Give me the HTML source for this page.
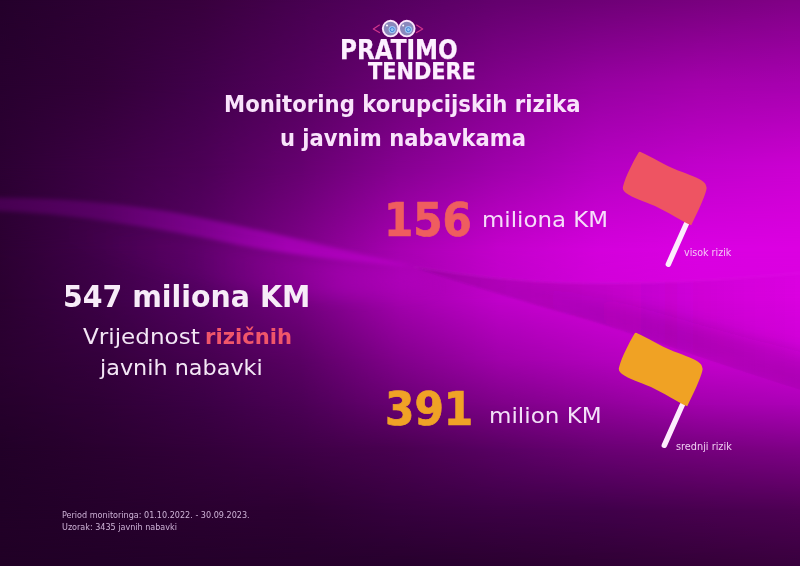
<!DOCTYPE html>
<html lang="bs">
<head>
<meta charset="utf-8">
<title>Pratimo tendere - Monitoring korupcijskih rizika u javnim nabavkama</title>
<style>
html,body{margin:0;padding:0;}
body{width:800px;height:566px;overflow:hidden;background:#3a0850;font-family:"Liberation Sans",sans-serif;}
#stage{position:relative;width:800px;height:566px;overflow:hidden;}
#bg,#art{position:absolute;left:0;top:0;width:800px;height:566px;display:block;}
.t{position:absolute;white-space:nowrap;line-height:1;margin:0;padding:0;transform-origin:0 0;}
#v1 b{color:#f0566a;}
#logo1{left:340.43px;top:36.60px;font-family:"DejaVu Sans Condensed","DejaVu Sans","Liberation Sans",sans-serif;font-size:26.1px;font-weight:bold;color:#fdf0ff;transform:scaleX(0.9846);}
#logo2{left:368.40px;top:60.00px;font-family:"DejaVu Sans Condensed","DejaVu Sans","Liberation Sans",sans-serif;font-size:22.5px;font-weight:bold;color:#fdf0ff;transform:scaleX(1.0291);}
#h1{left:224.41px;top:93.00px;font-family:"DejaVu Sans Condensed","DejaVu Sans","Liberation Sans",sans-serif;font-size:22.6px;font-weight:bold;color:#f9e3fb;transform:scaleX(1.0444);}
#h2{left:279.96px;top:126.75px;font-family:"DejaVu Sans Condensed","DejaVu Sans","Liberation Sans",sans-serif;font-size:22.6px;font-weight:bold;color:#f9e3fb;transform:scaleX(1.0383);}
#n156{left:384.36px;top:196.90px;font-family:"DejaVu Sans Condensed","DejaVu Sans","Liberation Sans",sans-serif;font-size:46.4px;font-weight:bold;color:#ef5d5f;transform:scaleX(1.0075);}
#m156{left:482.35px;top:209.75px;font-family:"DejaVu Sans","Liberation Sans",sans-serif;font-size:20.4px;font-weight:normal;color:#f6dcfa;transform:scaleX(1.1231);}
#n391{left:385.46px;top:385.70px;font-family:"DejaVu Sans Condensed","DejaVu Sans","Liberation Sans",sans-serif;font-size:46.4px;font-weight:bold;color:#f0a226;transform:scaleX(1.0136);}
#m391{left:489.14px;top:405.90px;font-family:"DejaVu Sans","Liberation Sans",sans-serif;font-size:20.4px;font-weight:normal;color:#f3e0f8;transform:scaleX(1.1302);}
#big{left:62.54px;top:282.40px;font-family:"DejaVu Sans Condensed","DejaVu Sans","Liberation Sans",sans-serif;font-size:30.7px;font-weight:bold;color:#f7ecf8;transform:scaleX(1.0297);}
#v1{left:82.60px;top:326.60px;font-family:"DejaVu Sans","Liberation Sans",sans-serif;font-size:20.9px;font-weight:normal;color:#f3e6f5;transform:scaleX(1.1048);}
#v1b{left:204.58px;top:326.60px;font-family:"DejaVu Sans","Liberation Sans",sans-serif;font-size:20.9px;font-weight:bold;color:#f0566a;transform:scaleX(1.0096);}
#v2{left:99.82px;top:358.20px;font-family:"DejaVu Sans","Liberation Sans",sans-serif;font-size:20.9px;font-weight:normal;color:#f3e6f5;transform:scaleX(1.0687);}
#lab1{left:683.75px;top:246.60px;font-family:"DejaVu Sans Condensed","DejaVu Sans","Liberation Sans",sans-serif;font-size:10.3px;font-weight:normal;color:#f6c6f7;transform:scaleX(1.0272);}
#lab2{left:675.60px;top:441.40px;font-family:"DejaVu Sans Condensed","DejaVu Sans","Liberation Sans",sans-serif;font-size:10.3px;font-weight:normal;color:#efcdf2;transform:scaleX(1.0500);}
#f1{left:62.43px;top:509.85px;font-family:"DejaVu Sans Condensed","DejaVu Sans","Liberation Sans",sans-serif;font-size:9.3px;font-weight:normal;color:#cdb2d6;transform:scaleX(0.9655);}
#f2{left:62.44px;top:522.20px;font-family:"DejaVu Sans Condensed","DejaVu Sans","Liberation Sans",sans-serif;font-size:9.3px;font-weight:normal;color:#cdb2d6;transform:scaleX(0.9627);}
#n156{-webkit-text-stroke:0.7px #ef5d5f;}
#n391{-webkit-text-stroke:0.7px #f0a226;}
#logo1,#logo2{-webkit-text-stroke:0.25px #fdf0ff;}

</style>
</head>
<body>
<div id="stage">
<svg id="bg" width="800" height="566" viewBox="0 0 800 566">
<defs>
<linearGradient id="r0" x1="0" y1="0" x2="800" y2="0" gradientUnits="userSpaceOnUse"><stop offset="0" stop-color="#24002b"/><stop offset="0.125" stop-color="#2e0034"/><stop offset="0.25" stop-color="#38003d"/><stop offset="0.375" stop-color="#470050"/><stop offset="0.5" stop-color="#560060"/><stop offset="0.625" stop-color="#64006e"/><stop offset="0.75" stop-color="#6e0076"/><stop offset="0.875" stop-color="#78007e"/><stop offset="1" stop-color="#810087"/></linearGradient>
<linearGradient id="r1" x1="0" y1="0" x2="800" y2="0" gradientUnits="userSpaceOnUse"><stop offset="0" stop-color="#28002f"/><stop offset="0.125" stop-color="#320038"/><stop offset="0.25" stop-color="#40004a"/><stop offset="0.375" stop-color="#54005e"/><stop offset="0.5" stop-color="#6c0076"/><stop offset="0.625" stop-color="#84008e"/><stop offset="0.75" stop-color="#9800a2"/><stop offset="0.875" stop-color="#a400ac"/><stop offset="1" stop-color="#a800b0"/></linearGradient>
<linearGradient id="m1" x1="0" y1="0" x2="0" y2="85" gradientUnits="userSpaceOnUse"><stop offset="0" stop-color="#fff" stop-opacity="0"/><stop offset="1" stop-color="#fff"/></linearGradient>
<mask id="k1" maskUnits="userSpaceOnUse" x="0" y="0" width="800" height="566"><rect y="0" width="800" height="566" fill="url(#m1)"/></mask>
<linearGradient id="r2" x1="0" y1="0" x2="800" y2="0" gradientUnits="userSpaceOnUse"><stop offset="0" stop-color="#2c0033"/><stop offset="0.125" stop-color="#3c0044"/><stop offset="0.25" stop-color="#4c0056"/><stop offset="0.375" stop-color="#660070"/><stop offset="0.5" stop-color="#870092"/><stop offset="0.625" stop-color="#a000ac"/><stop offset="0.75" stop-color="#b600c2"/><stop offset="0.875" stop-color="#c200cc"/><stop offset="1" stop-color="#cc00d2"/></linearGradient>
<linearGradient id="m2" x1="0" y1="85" x2="0" y2="168" gradientUnits="userSpaceOnUse"><stop offset="0" stop-color="#fff" stop-opacity="0"/><stop offset="1" stop-color="#fff"/></linearGradient>
<mask id="k2" maskUnits="userSpaceOnUse" x="0" y="0" width="800" height="566"><rect y="85" width="800" height="481" fill="url(#m2)"/></mask>
<linearGradient id="r3" x1="0" y1="0" x2="800" y2="0" gradientUnits="userSpaceOnUse"><stop offset="0" stop-color="#2c0032"/><stop offset="0.125" stop-color="#40004a"/><stop offset="0.25" stop-color="#580064"/><stop offset="0.375" stop-color="#7e0088"/><stop offset="0.5" stop-color="#a800b2"/><stop offset="0.625" stop-color="#c400cc"/><stop offset="0.75" stop-color="#d400dc"/><stop offset="0.875" stop-color="#da00e2"/><stop offset="1" stop-color="#dc00e2"/></linearGradient>
<linearGradient id="m3" x1="0" y1="168" x2="0" y2="250" gradientUnits="userSpaceOnUse"><stop offset="0" stop-color="#fff" stop-opacity="0"/><stop offset="1" stop-color="#fff"/></linearGradient>
<mask id="k3" maskUnits="userSpaceOnUse" x="0" y="0" width="800" height="566"><rect y="168" width="800" height="398" fill="url(#m3)"/></mask>
<linearGradient id="r4" x1="0" y1="0" x2="800" y2="0" gradientUnits="userSpaceOnUse"><stop offset="0" stop-color="#2b0031"/><stop offset="0.125" stop-color="#3c0046"/><stop offset="0.25" stop-color="#520060"/><stop offset="0.375" stop-color="#74007f"/><stop offset="0.5" stop-color="#a400ae"/><stop offset="0.625" stop-color="#c000ca"/><stop offset="0.75" stop-color="#d000d8"/><stop offset="0.875" stop-color="#d800de"/><stop offset="1" stop-color="#da00e0"/></linearGradient>
<linearGradient id="m4" x1="0" y1="250" x2="0" y2="300" gradientUnits="userSpaceOnUse"><stop offset="0" stop-color="#fff" stop-opacity="0"/><stop offset="1" stop-color="#fff"/></linearGradient>
<mask id="k4" maskUnits="userSpaceOnUse" x="0" y="0" width="800" height="566"><rect y="250" width="800" height="316" fill="url(#m4)"/></mask>
<linearGradient id="r5" x1="0" y1="0" x2="800" y2="0" gradientUnits="userSpaceOnUse"><stop offset="0" stop-color="#2a0030"/><stop offset="0.125" stop-color="#34003c"/><stop offset="0.25" stop-color="#44004e"/><stop offset="0.375" stop-color="#5a0064"/><stop offset="0.5" stop-color="#82008c"/><stop offset="0.625" stop-color="#a000aa"/><stop offset="0.75" stop-color="#b200bc"/><stop offset="0.875" stop-color="#c400cc"/><stop offset="1" stop-color="#cc00d4"/></linearGradient>
<linearGradient id="m5" x1="0" y1="300" x2="0" y2="360" gradientUnits="userSpaceOnUse"><stop offset="0" stop-color="#fff" stop-opacity="0"/><stop offset="1" stop-color="#fff"/></linearGradient>
<mask id="k5" maskUnits="userSpaceOnUse" x="0" y="0" width="800" height="566"><rect y="300" width="800" height="266" fill="url(#m5)"/></mask>
<linearGradient id="r6" x1="0" y1="0" x2="800" y2="0" gradientUnits="userSpaceOnUse"><stop offset="0" stop-color="#26002c"/><stop offset="0.125" stop-color="#2f0036"/><stop offset="0.25" stop-color="#3a0044"/><stop offset="0.375" stop-color="#4b0055"/><stop offset="0.5" stop-color="#680072"/><stop offset="0.625" stop-color="#7e0088"/><stop offset="0.75" stop-color="#90009a"/><stop offset="0.875" stop-color="#a200ac"/><stop offset="1" stop-color="#ac00b6"/></linearGradient>
<linearGradient id="m6" x1="0" y1="360" x2="0" y2="405" gradientUnits="userSpaceOnUse"><stop offset="0" stop-color="#fff" stop-opacity="0"/><stop offset="1" stop-color="#fff"/></linearGradient>
<mask id="k6" maskUnits="userSpaceOnUse" x="0" y="0" width="800" height="566"><rect y="360" width="800" height="206" fill="url(#m6)"/></mask>
<linearGradient id="r7" x1="0" y1="0" x2="800" y2="0" gradientUnits="userSpaceOnUse"><stop offset="0" stop-color="#220028"/><stop offset="0.125" stop-color="#2a0030"/><stop offset="0.25" stop-color="#33003a"/><stop offset="0.375" stop-color="#3e0046"/><stop offset="0.5" stop-color="#4a0052"/><stop offset="0.625" stop-color="#5a0064"/><stop offset="0.75" stop-color="#6a0074"/><stop offset="0.875" stop-color="#76007e"/><stop offset="1" stop-color="#800088"/></linearGradient>
<linearGradient id="m7" x1="0" y1="405" x2="0" y2="448" gradientUnits="userSpaceOnUse"><stop offset="0" stop-color="#fff" stop-opacity="0"/><stop offset="1" stop-color="#fff"/></linearGradient>
<mask id="k7" maskUnits="userSpaceOnUse" x="0" y="0" width="800" height="566"><rect y="405" width="800" height="161" fill="url(#m7)"/></mask>
<linearGradient id="r8" x1="0" y1="0" x2="800" y2="0" gradientUnits="userSpaceOnUse"><stop offset="0" stop-color="#210027"/><stop offset="0.125" stop-color="#25002b"/><stop offset="0.25" stop-color="#2a0030"/><stop offset="0.375" stop-color="#2d0033"/><stop offset="0.5" stop-color="#36003e"/><stop offset="0.625" stop-color="#3c0045"/><stop offset="0.75" stop-color="#40004a"/><stop offset="0.875" stop-color="#48004f"/><stop offset="1" stop-color="#4e0054"/></linearGradient>
<linearGradient id="m8" x1="0" y1="448" x2="0" y2="510" gradientUnits="userSpaceOnUse"><stop offset="0" stop-color="#fff" stop-opacity="0"/><stop offset="1" stop-color="#fff"/></linearGradient>
<mask id="k8" maskUnits="userSpaceOnUse" x="0" y="0" width="800" height="566"><rect y="448" width="800" height="118" fill="url(#m8)"/></mask>
<linearGradient id="r9" x1="0" y1="0" x2="800" y2="0" gradientUnits="userSpaceOnUse"><stop offset="0" stop-color="#210026"/><stop offset="0.125" stop-color="#220028"/><stop offset="0.25" stop-color="#24002a"/><stop offset="0.375" stop-color="#26002c"/><stop offset="0.5" stop-color="#27002d"/><stop offset="0.625" stop-color="#2b0030"/><stop offset="0.75" stop-color="#2f0034"/><stop offset="0.875" stop-color="#340038"/><stop offset="1" stop-color="#38003d"/></linearGradient>
<linearGradient id="m9" x1="0" y1="510" x2="0" y2="566" gradientUnits="userSpaceOnUse"><stop offset="0" stop-color="#fff" stop-opacity="0"/><stop offset="1" stop-color="#fff"/></linearGradient>
<mask id="k9" maskUnits="userSpaceOnUse" x="0" y="0" width="800" height="566"><rect y="510" width="800" height="56" fill="url(#m9)"/></mask>
</defs>
<rect width="800" height="566" fill="url(#r0)"/>
<rect y="0" width="800" height="566" fill="url(#r1)" mask="url(#k1)"/>
<rect y="85" width="800" height="481" fill="url(#r2)" mask="url(#k2)"/>
<rect y="168" width="800" height="398" fill="url(#r3)" mask="url(#k3)"/>
<rect y="250" width="800" height="316" fill="url(#r4)" mask="url(#k4)"/>
<rect y="300" width="800" height="266" fill="url(#r5)" mask="url(#k5)"/>
<rect y="360" width="800" height="206" fill="url(#r6)" mask="url(#k6)"/>
<rect y="405" width="800" height="161" fill="url(#r7)" mask="url(#k7)"/>
<rect y="448" width="800" height="118" fill="url(#r8)" mask="url(#k8)"/>
<rect y="510" width="800" height="56" fill="url(#r9)" mask="url(#k9)"/>
<defs>
  <filter id="soft" x="-5%" y="-30%" width="110%" height="160%"><feGaussianBlur stdDeviation="2.2"/></filter>
  <filter id="soft8" x="-10%" y="-40%" width="120%" height="180%"><feGaussianBlur stdDeviation="7"/></filter>
  <filter id="soft1" x="-5%" y="-50%" width="110%" height="200%"><feGaussianBlur stdDeviation="0.8"/></filter>
  <linearGradient id="rib" x1="0" y1="0" x2="412" y2="0" gradientUnits="userSpaceOnUse">
    <stop offset="0" stop-color="#cc00ea" stop-opacity="0.17"/>
    <stop offset="0.25" stop-color="#cc00ea" stop-opacity="0.19"/>
    <stop offset="0.5" stop-color="#d400ee" stop-opacity="0.32"/>
    <stop offset="0.7" stop-color="#dc00f2" stop-opacity="0.42"/>
    <stop offset="1" stop-color="#e400f6" stop-opacity="0.26"/>
  </linearGradient>
  <linearGradient id="hz" x1="60" y1="0" x2="440" y2="0" gradientUnits="userSpaceOnUse">
    <stop offset="0" stop-color="#e000f0" stop-opacity="0"/>
    <stop offset="0.35" stop-color="#e000f0" stop-opacity="0.04"/>
    <stop offset="0.75" stop-color="#e000f0" stop-opacity="0.22"/>
    <stop offset="1" stop-color="#e000f0" stop-opacity="0.05"/>
  </linearGradient>
  <linearGradient id="wdg" x1="414" y1="0" x2="800" y2="0" gradientUnits="userSpaceOnUse">
    <stop offset="0" stop-color="#30003a" stop-opacity="0.13"/>
    <stop offset="0.5" stop-color="#30003a" stop-opacity="0.10"/>
    <stop offset="0.8" stop-color="#30003a" stop-opacity="0.03"/>
    <stop offset="1" stop-color="#30003a" stop-opacity="0"/>
  </linearGradient>
  <linearGradient id="lowb" x1="414" y1="0" x2="800" y2="0" gradientUnits="userSpaceOnUse">
    <stop offset="0" stop-color="#30003a" stop-opacity="0"/>
    <stop offset="0.3" stop-color="#30003a" stop-opacity="0.03"/>
    <stop offset="0.7" stop-color="#30003a" stop-opacity="0.12"/>
    <stop offset="1" stop-color="#30003a" stop-opacity="0.12"/>
  </linearGradient>
  <clipPath id="wclip"><path d="M414,267 C440,271 455,273 470,275 C530,283 580,284 630,283 C690,282 750,278 805,272.5 L805,391.5 C770,380 735,369 700,357 C677,349 653,341 630,333 C603,324 577,316 550,309 C523,301 497,293 470,285 C450,279 432,273 414,267 Z"/></clipPath>
</defs>
<!-- light ribbon (left), converging to (413,266) -->
<path d="M-5,197.5 C70,198 140,205 200,217.5 C280,234 350,252 413,266 C360,263 300,256 250,247 C230,243.5 215,240 200,237 C140,226 70,213 -5,211 Z" fill="url(#rib)" filter="url(#soft)"/>
<!-- haze below the light ribbon -->
<path d="M60,220 C120,228 170,234 250,249 C300,258 360,264 413,267 L440,290 C380,300 320,300 250,290 C180,280 120,262 60,240 Z" fill="url(#hz)" filter="url(#soft8)"/>
<!-- dark wedge (right), opening from (414,267) -->
<path d="M414,267 C440,271 455,273 470,275 C530,283 580,284 630,283 C690,282 750,278 805,272.5 L805,391.5 C770,380 735,369 700,357 C677,349 653,341 630,333 C603,324 577,316 550,309 C523,301 497,293 470,285 C450,279 432,273 414,267 Z" fill="url(#wdg)" filter="url(#soft1)"/>
<!-- darkening towards the wedge's lower edge (soft upward, crisp at the edge) -->
<g clip-path="url(#wclip)">
  <path d="M470,285 C497,293 523,301 550,309 C577,316 603,324 630,333 C653,341 677,349 700,357 C735,369 770,380 830,400 L830,360 C770,344 735,335 700,325 C677,318 653,311 630,305 C603,298 577,292 550,289 C523,286 497,285 470,285 Z" fill="url(#lowb)" filter="url(#soft8)"/>
</g>
<!-- faint light streak along the upper edge -->
<path d="M414,267 C440,271 455,273 470,275 C530,283 580,284 630,283 C690,282 750,278 805,272.5" fill="none" stroke="#ff70ff" stroke-opacity="0.09" stroke-width="1.5" filter="url(#soft1)"/>

</svg>

<svg id="art" width="800" height="566" viewBox="0 0 800 566">
  <defs>
    <g id="flagshape">
      <line x1="686.3" y1="224" x2="668.3" y2="264.3" stroke="#fdecfd" stroke-width="5.4" stroke-linecap="round"/>
      <path d="M638.6,152.6 Q639.2,151.4 640.6,152.0 C652,157 664,165 678,170.5 C690,175 698,177.5 703,181.5 Q707.5,185 706.3,190 C704,199 698,211 691.2,225.2 C681,221 668,212 655,206 C643,201 633,198 626,193 Q621.5,189.5 623.3,185.5 C626,176 632,164 638.6,152.6 Z"/>
    </g>
  </defs>
  <use href="#flagshape" fill="#ee5462"/>
  <use href="#flagshape" fill="#f0a224" transform="translate(-4 181)"/>
  <!-- logo binoculars -->
  <g fill="none" stroke="#d2358c" stroke-width="1.2" stroke-linecap="round" stroke-linejoin="round">
    <polyline points="379.4,25.1 373.3,28.9 379.4,32.6"/>
    <polyline points="416.6,25.1 422.7,28.9 416.6,32.6"/>
  </g>
  <g>
    <circle cx="390.6" cy="28.6" r="7.8" fill="#8a88bc" stroke="#fbe6fb" stroke-width="1.9"/>
    <circle cx="406.8" cy="28.6" r="7.8" fill="#8a88bc" stroke="#fbe6fb" stroke-width="1.9"/>
    <circle cx="392.2" cy="29.6" r="3.6" fill="#9cc4f4"/>
    <circle cx="408.4" cy="29.6" r="3.6" fill="#9cc4f4"/>
    <circle cx="392.2" cy="29.6" r="2" fill="none" stroke="#3f7fd6" stroke-width="1"/>
    <circle cx="408.4" cy="29.6" r="2" fill="none" stroke="#3f7fd6" stroke-width="1"/>
    <circle cx="387" cy="25.6" r="1" fill="#ffffff"/>
    <circle cx="403.2" cy="25.6" r="1" fill="#ffffff"/>
  </g>
</svg>

<div class="t" id="logo1">PRATIMO</div>
<div class="t" id="logo2">TENDERE</div>
<div class="t" id="h1">Monitoring korupcijskih rizika</div>
<div class="t" id="h2">u javnim nabavkama</div>
<div class="t" id="n156">156</div>
<div class="t" id="m156">miliona KM</div>
<div class="t" id="n391">391</div>
<div class="t" id="m391">milion KM</div>
<div class="t" id="big">547 miliona KM</div>
<div class="t" id="v1">Vrijednost</div>
<div class="t" id="v1b">rizičnih</div>
<div class="t" id="v2">javnih nabavki</div>
<div class="t" id="lab1">visok rizik</div>
<div class="t" id="lab2">srednji rizik</div>
<div class="t" id="f1">Period monitoringa: 01.10.2022. - 30.09.2023.</div>
<div class="t" id="f2">Uzorak: 3435 javnih nabavki</div>
</div>
</body>
</html>
